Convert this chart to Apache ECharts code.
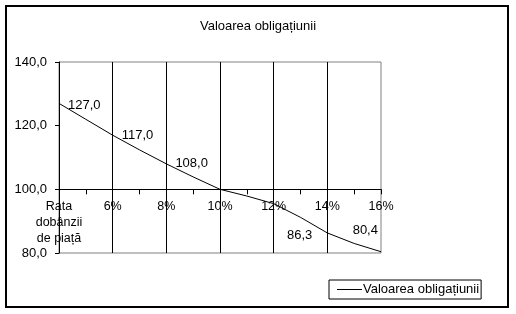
<!DOCTYPE html>
<html>
<head>
<meta charset="utf-8">
<script src="https://cdn.jsdelivr.net/npm/echarts@6/dist/echarts.min.js"></script>
<style>html,body{margin:0;padding:0;background:#fff;}#c{width:516px;height:314px;}</style>
</head>
<body>
<div id="c"></div>
<script>
const titleText = 'Valoarea obligațiunii';
const seriesName = 'Valoarea obligațiunii';
const categories = ['Rata\ndobânzii\nde piață', '5%', '6%', '7%', '8%', '9%', '10%', '11%', '12%', '13%', '14%', '15%', '16%'];
const values = [127.0, 122.0, 117.0, 112.4, 108.0, 103.9, 100.0, 97.9, 95.5, 91.2, 86.3, 83.0, 80.4];
const labeledIndices = [0, 2, 4, 10, 12];
const yTicks = [80, 100, 120, 140];

const FONT = 'Liberation Sans, Arial, sans-serif';
const labelLayout = {
  0: {position: 'right', distance: 9, offset: [0, 2]},
  2: {position: 'right', distance: 9, offset: [0, 0]},
  4: {position: 'right', distance: 9, offset: [0, 0]},
  10: {position: 'left', distance: 15, offset: [0, 2]},
  12: {position: 'left', distance: 3, offset: [0, -21]}
};
const fmt = v => v.toFixed(1).replace('.', ',');

const seriesData = values.map((v, i) => {
  if (labeledIndices.indexOf(i) >= 0) {
    const l = labelLayout[i];
    return {value: v, label: {show: true, position: l.position, distance: l.distance, offset: l.offset,
      formatter: p => fmt(p.value), color: '#000', fontFamily: FONT, fontSize: 13}};
  }
  return {value: v};
});

const gridTop = 62, gridBottomPx = 253, gridLeft = 59, gridRight = 381;
const yMin = yTicks[0], yMax = yTicks[yTicks.length - 1], yCross = 100;
const gridH = gridBottomPx - gridTop;
const axisOffset = -gridH * (yCross - yMin) / (yMax - yMin);

const chart = echarts.init(document.getElementById('c'), null, {renderer: 'canvas'});
chart.setOption({
  animation: false,
  backgroundColor: '#fff',
  title: {text: titleText, left: 'center', top: 15,
    textStyle: {fontFamily: FONT, fontSize: 13, fontWeight: 'normal', color: '#000'}},
  grid: {left: gridLeft, right: 516 - gridRight, top: gridTop, bottom: 314 - gridBottomPx,
    show: true, borderColor: '#808080', borderWidth: 1, containLabel: false},
  legend: {
    data: [{name: seriesName, icon: 'rect'}],
    left: 329, top: 280, orient: 'horizontal',
    itemWidth: 25, itemHeight: 1,
    padding: [3, 2, 3, 8],
    borderColor: '#000', borderWidth: 1,
    itemStyle: {color: '#000'},
    textStyle: {fontFamily: FONT, fontSize: 13, color: '#000', padding: [0, 0, 0, -4]}
  },
  xAxis: {
    type: 'category', data: categories, boundaryGap: false,
    position: 'bottom', offset: axisOffset,
    axisLine: {onZero: false, lineStyle: {color: '#000', width: 1}},
    axisTick: {show: true, interval: 0, length: 5, lineStyle: {color: '#000'}},
    axisLabel: {interval: 1, margin: 9, color: '#000', fontFamily: FONT, fontSize: 12.5, lineHeight: 16, hideOverlap: false},
    splitLine: {show: true, interval: (i) => i % 2 === 0 && i > 0 && i < categories.length - 1,
      lineStyle: {color: '#000', width: 1}}
  },
  yAxis: {
    type: 'value', min: yMin, max: yMax, interval: 20,
    axisLine: {show: true, lineStyle: {color: '#000', width: 1}},
    axisTick: {show: true, length: 4, lineStyle: {color: '#000'}},
    axisLabel: {formatter: v => fmt(v), margin: 12, color: '#000', fontFamily: FONT, fontSize: 13},
    splitLine: {show: false}
  },
  series: [{
    name: seriesName, type: 'line', data: seriesData,
    symbol: 'circle', symbolSize: 0.1, showSymbol: true,
    itemStyle: {color: '#000'},
    lineStyle: {color: '#000', width: 1},
    label: {show: false},
    z: 5
  }],
  graphic: [{type: 'rect', shape: {x: 6, y: 6, width: 502, height: 301},
    style: {fill: 'none', stroke: '#000', lineWidth: 2}, silent: true, z: 100}]
});
</script>
</body>
</html>
